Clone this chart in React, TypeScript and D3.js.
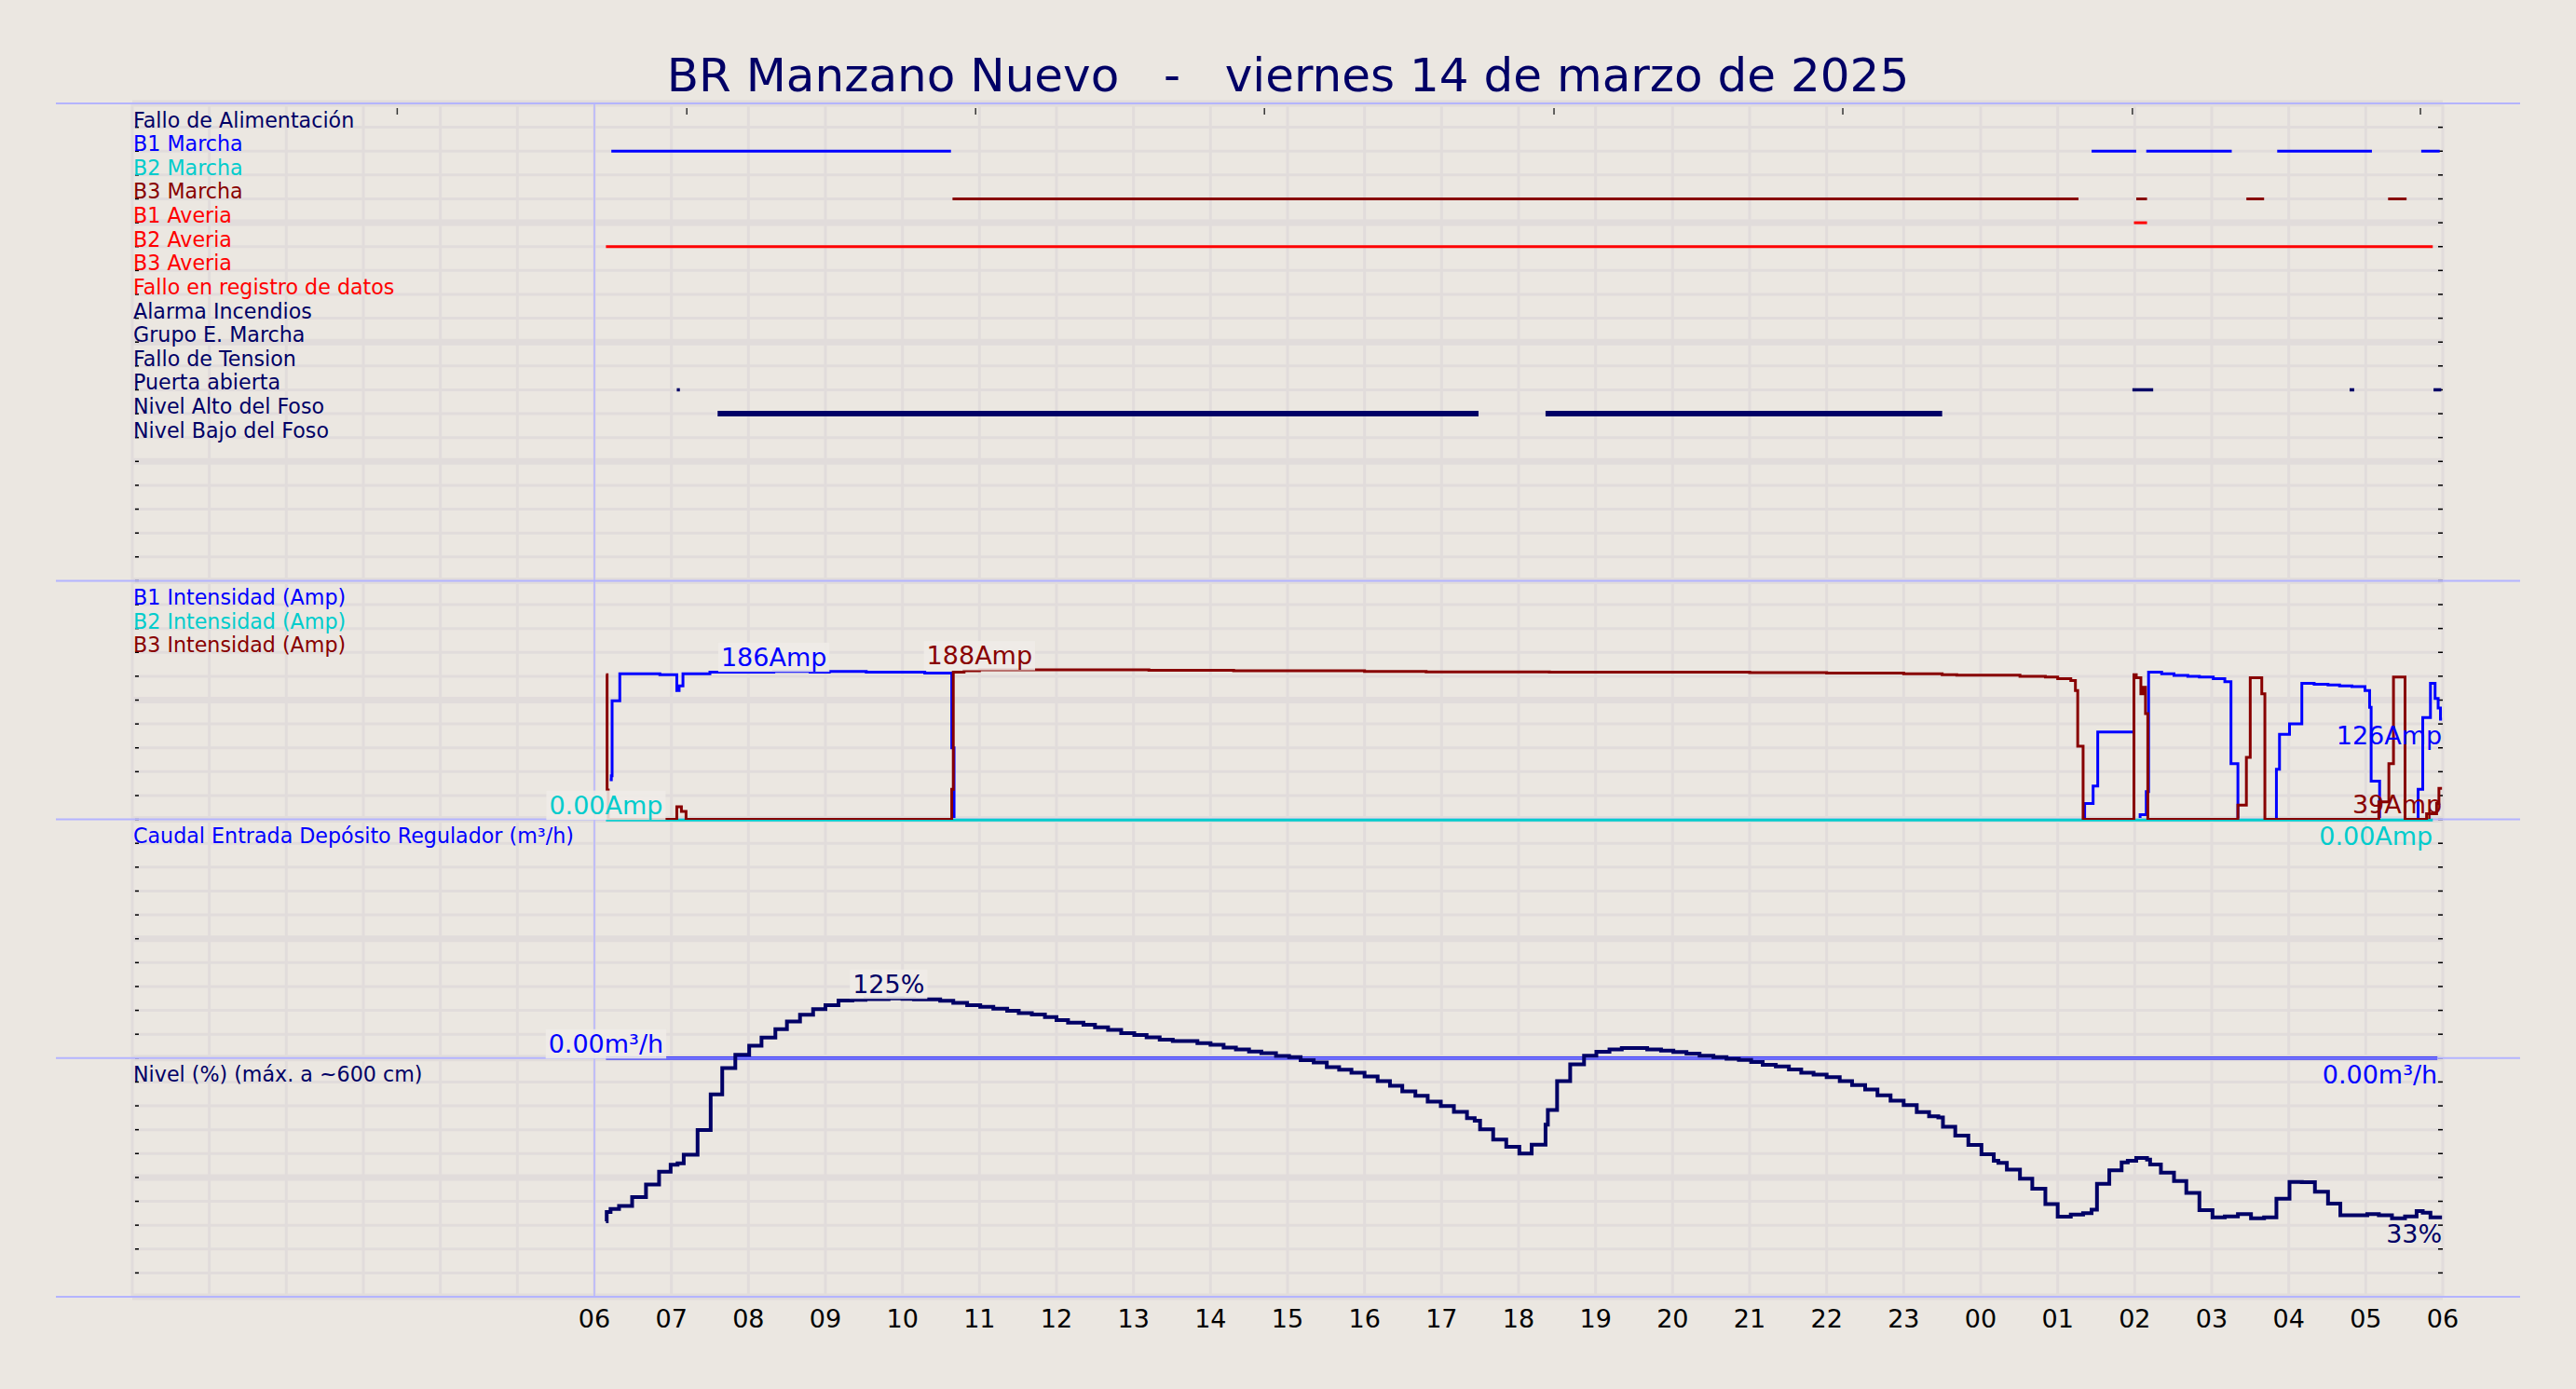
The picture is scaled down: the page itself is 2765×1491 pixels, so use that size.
import React from "react";
import * as d3 from "d3";

const W = 2765;
const H = 1491;
const FONT = "DejaVu Sans, Verdana, sans-serif";

const NAVY = "#000066";
const BLUE = "#0000ff";
const CYAN = "#00cccc";
const DARKRED = "#880000";
const RED = "#ff0000";
const BG = "#ebe7e1";
const GRID = "#e1dcdb";
const DIVIDER = "#b4b4ff";

const titleText = "BR Manzano Nuevo   -   viernes 14 de marzo de 2025";

// Top panel rows
const statusLabels = [
  "Fallo de Alimentación",
  "B1 Marcha",
  "B2 Marcha",
  "B3 Marcha",
  "B1 Averia",
  "B2 Averia",
  "B3 Averia",
  "Fallo en registro de datos",
  "Alarma Incendios",
  "Grupo E. Marcha",
  "Fallo de Tension",
  "Puerta abierta",
  "Nivel Alto del Foso",
  "Nivel Bajo del Foso",
];
const statusColors = [NAVY, BLUE, CYAN, DARKRED, RED, RED, RED, RED, NAVY, NAVY, NAVY, NAVY, NAVY, NAVY];

// status segments [startHour, endHour] (hours from 00:00 of 14/03)
const b1Marcha = [[6.22, 10.63], [25.44, 26.02], [26.15, 27.26], [27.85, 29.08], [29.72, 29.96]];
const b3Marcha = [[10.65, 25.27], [26.02, 26.16], [27.45, 27.68], [29.29, 29.53]];
const b1Averia = [[25.99, 26.16]];
const b2Averia = [[6.15, 29.87]];
const puertaAbierta = [[7.07, 7.11], [25.97, 26.24], [28.79, 28.85], [29.88, 29.98]];
const nivelAlto = [[7.6, 17.48], [18.35, 23.5]];

// Intensities (Amp)
const b1Amp = [
  [6.2, 50], [6.22, 55], [6.23, 149], [6.33, 183], [6.85, 182], [7.07, 162], [7.1, 168], [7.15, 183],
  [7.5, 185], [8.33, 186], [8.8, 185], [9.05, 186], [9.53, 185], [10.29, 184], [10.64, 90], [10.67, 0],
  [25.35, 20], [25.46, 42], [25.52, 110], [25.99, 0], [26.07, 6], [26.15, 35], [26.18, 185], [26.35, 183],
  [26.51, 181], [26.69, 180], [26.84, 179], [27.02, 177], [27.17, 173], [27.25, 70], [27.34, 0],
  [27.84, 63], [27.88, 107], [28.01, 120], [28.17, 171], [28.33, 170], [28.51, 169], [28.66, 168],
  [28.82, 167], [28.99, 162], [29.05, 141], [29.07, 48], [29.18, 0], [29.68, 38], [29.74, 128],
  [29.84, 171], [29.9, 152], [29.94, 140], [29.97, 126], [29.99, 126],
];
const b2Amp = [[6.15, 0], [29.87, 0]];
const b3Amp = [
  [6.15, 182], [6.165, 37], [6.18, 0], [7.07, 16], [7.13, 10], [7.19, 0], [10.64, 38], [10.66, 185],
  [10.8, 187], [11.0, 188], [12.1, 188], [13.2, 187.5], [14.3, 187], [15.1, 187], [16.0, 186],
  [16.8, 185.5], [18.4, 185], [19.6, 185], [21.0, 184.5], [22.0, 184], [23.0, 183], [23.5, 182],
  [23.69, 181.3], [24.51, 180], [24.84, 179], [25.0, 177], [25.17, 174.6], [25.23, 162], [25.26, 92],
  [25.33, 0], [25.99, 182], [26.02, 178], [26.08, 158], [26.11, 166], [26.14, 133], [26.17, 0],
  [27.34, 18], [27.45, 78], [27.5, 178], [27.65, 158], [27.69, 0], [29.17, 22], [29.3, 70],
  [29.36, 179], [29.51, 0], [29.79, 7], [29.92, 20], [29.95, 39], [29.99, 39],
];

// Caudal (m3/h)
const caudal = [[6.15, 0], [29.93, 0]];

// Nivel (%)
const nivel = [
  [6.15, 31.6], [6.16, 35.5], [6.21, 36.8], [6.32, 38.1], [6.49, 41.8], [6.67, 47.0], [6.84, 52.4],
  [6.99, 55.3], [7.08, 55.9], [7.16, 59.5], [7.34, 69.9], [7.51, 84.8], [7.66, 95.8], [7.83, 101.4],
  [8.01, 105.2], [8.17, 108.6], [8.35, 112.1], [8.5, 115.3], [8.67, 118.2], [8.84, 120.5], [9.0, 122.2],
  [9.17, 124.1], [9.35, 124.4], [9.52, 124.7], [9.82, 125], [10.0, 124.8], [10.15, 124.6], [10.49, 124.0],
  [10.66, 123.1], [10.84, 122.2], [11.01, 121.5], [11.18, 120.7], [11.36, 119.8], [11.51, 118.9],
  [11.68, 118.3], [11.85, 117.2], [12.0, 115.9], [12.15, 114.9], [12.35, 114.0], [12.5, 112.9],
  [12.67, 111.8], [12.84, 110.5], [13.01, 109.7], [13.17, 108.7], [13.34, 107.7], [13.51, 107.1],
  [13.83, 106.3], [14.0, 105.6], [14.17, 104.4], [14.33, 103.6], [14.5, 102.8], [14.66, 102.1],
  [14.85, 100.9], [15.02, 100.4], [15.17, 99.1], [15.34, 98.2], [15.51, 96.2], [15.67, 95.1],
  [15.83, 93.9], [16.0, 92.3], [16.17, 90.4], [16.33, 88.4], [16.49, 86.1], [16.66, 84.2], [16.82, 81.8],
  [16.99, 79.9], [17.16, 77.5], [17.33, 74.8], [17.43, 73.8], [17.5, 70.2], [17.67, 65.9], [17.84, 62.8],
  [18.01, 60.0], [18.17, 63.7], [18.35, 72.1], [18.38, 78.3], [18.5, 90.4], [18.67, 97.4], [18.85, 101.0],
  [19.01, 102.7], [19.18, 103.6], [19.34, 104.2], [19.67, 103.6], [19.85, 103.1], [20.01, 102.6],
  [20.18, 101.9], [20.35, 101.0], [20.53, 100.4], [20.7, 99.7], [20.86, 99.2], [21.02, 98.4],
  [21.17, 97.2], [21.34, 96.5], [21.51, 95.2], [21.67, 93.9], [21.83, 93.1], [22.0, 92.0], [22.17, 90.4],
  [22.33, 88.7], [22.5, 86.8], [22.66, 84.4], [22.83, 82.2], [23.0, 80.3], [23.17, 77.4], [23.33, 75.6],
  [23.45, 75.1], [23.51, 71.2], [23.67, 67.5], [23.84, 63.6], [24.01, 59.7], [24.17, 57.0], [24.23, 56.1],
  [24.34, 53.3], [24.51, 49.5], [24.67, 45.3], [24.84, 38.8], [25.0, 33.6], [25.17, 34.4], [25.33, 35.0],
  [25.44, 36.5], [25.51, 47.3], [25.67, 53.0], [25.83, 56.3], [25.91, 57.0], [26.02, 58.2], [26.16, 57.5],
  [26.2, 55.4], [26.34, 52.0], [26.51, 48.5], [26.67, 43.5], [26.84, 36.3], [27.01, 33.3], [27.17, 33.7],
  [27.34, 34.6], [27.51, 32.9], [27.68, 33.3], [27.84, 41.1], [28.01, 48.1], [28.17, 48.0], [28.34, 44.0],
  [28.51, 39.0], [28.67, 34.2], [29.02, 34.6], [29.17, 34.2], [29.34, 32.9], [29.51, 33.7], [29.66, 35.9],
  [29.74, 35.2], [29.84, 33.3], [29.99, 33.3],
];

const topMarks = [3.44, 7.2, 10.95, 14.7, 18.46, 22.21, 25.97, 29.71];
const tickHours = d3.range(6, 31);

// scales
const x = d3.scaleLinear().domain([0, 30]).range([142, 2622]);
const rowY = d3.scaleLinear().domain([0, 50]).range([111, 1392]);
const ampY = d3.scaleLinear().domain([0, 300]).range([rowY(30), rowY(20)]);
const caudalY = d3.scaleLinear().domain([0, 100]).range([rowY(40), rowY(30)]);
const levelY = d3.scaleLinear().domain([0, 100]).range([rowY(50), rowY(40)]);

const ctx = typeof document !== "undefined" ? document.createElement("canvas").getContext("2d") : null;
function measure(t: string, size: number) {
  if (!ctx) return t.length * size * 0.6;
  ctx.font = `${size}px "DejaVu Sans"`;
  return ctx.measureText(t).width;
}

function stepPath(data: number[][], ys: any) {
  return d3
    .line<number[]>()
    .x((d) => x(d[0]))
    .y((d) => ys(d[1]))
    .curve(d3.curveStepAfter)(data) as string;
}

const fmtAmp = (v: number) => (v === 0 ? v.toFixed(2) : String(Math.round(v))) + "Amp";
const fmtM3 = (v: number) => (v === 0 ? v.toFixed(2) : String(Math.round(v))) + "m³/h";
const fmtPct = (v: number) => String(Math.round(v)) + "%";

function MaxLabel({ data, ys, fmt, color }: any) {
  const idx = d3.maxIndex(data, (d: number[]) => d[1]);
  const d = data[idx];
  const cx = x(d[0]);
  const by = ys(d[1]) - 6;
  const text = fmt(d[1]);
  const size = 27;
  const w = measure(text, size);
  return (
    <g>
      <rect x={cx - w / 2 - 3} y={by - 25} width={w + 6} height={31.5} fill="#efece7" opacity={0.88} />
      <text x={cx} y={by} textAnchor="middle" fontSize={size} fill={color} fontFamily={FONT}>
        {text}
      </text>
    </g>
  );
}

function LastLabel({ data, ys, fmt, color }: any) {
  const d = data[data.length - 1];
  return (
    <text x={x(d[0])} y={ys(d[1]) + 27} textAnchor="end" fontSize={27} fill={color} fontFamily={FONT}>
      {fmt(d[1])}
    </text>
  );
}

export default function App() {
  const rows = d3.range(0, 51);
  const hours = d3.range(0, 31);
  const statusSeries = [
    { row: 2, segs: b1Marcha, color: BLUE, w: 3 },
    { row: 4, segs: b3Marcha, color: DARKRED, w: 3 },
    { row: 5, segs: b1Averia, color: RED, w: 3 },
    { row: 6, segs: b2Averia, color: RED, w: 3 },
    { row: 12, segs: puertaAbierta, color: NAVY, w: 3.5 },
    { row: 13, segs: nivelAlto, color: NAVY, w: 6 },
  ];
  const dividers = [0, 20, 30, 40, 50];
  return (
    <div style={{ position: "absolute", left: 0, top: 0, width: W, height: H }}>
      <svg width={W} height={H} style={{ display: "block" }}>
        <defs>
          <clipPath id="ampClip">
            <rect x={0} y={0} width={W} height={rowY(30) + 0.4} />
          </clipPath>
          <clipPath id="ampClipB1">
            <rect x={0} y={0} width={W} height={rowY(30) - 1.7} />
          </clipPath>
        </defs>
        <rect x={0} y={0} width={W} height={H} fill={BG} />
        {/* vertical grid */}
        {hours.map((h) => (
          <line key={"v" + h} x1={x(h)} x2={x(h)} y1={rowY(0)} y2={rowY(50)} stroke={GRID} strokeWidth={3} />
        ))}
        {/* horizontal grid */}
        {rows.map((r) => (
          <line
            key={"h" + r}
            x1={x(0)}
            x2={x(30)}
            y1={rowY(r)}
            y2={rowY(r)}
            stroke={GRID}
            strokeWidth={r % 5 === 0 ? 7 : 3}
          />
        ))}
        {/* side ticks */}
        {rows.map((r) => (
          <g key={"t" + r}>
            <line x1={x(0) + 3} x2={x(0) + 7} y1={rowY(r)} y2={rowY(r)} stroke="#000" strokeWidth={1.5} />
            <line x1={x(30) - 5} x2={x(30)} y1={rowY(r)} y2={rowY(r)} stroke="#000" strokeWidth={1.5} />
          </g>
        ))}
        {/* dividers */}
        {dividers.map((r) => (
          <line key={"d" + r} x1={60} x2={2705} y1={rowY(r)} y2={rowY(r)} stroke={DIVIDER} strokeWidth={2} />
        ))}
        <line x1={x(6)} x2={x(6)} y1={rowY(0)} y2={rowY(50)} stroke={DIVIDER} strokeWidth={1.5} />
        {/* top marks */}
        {topMarks.map((h, i) => (
          <line key={"m" + i} x1={x(h)} x2={x(h)} y1={116} y2={123} stroke="#333" strokeWidth={1.5} />
        ))}
        {/* row labels */}
        {statusLabels.map((s, i) => (
          <text key={"l" + i} x={143} y={rowY(i + 1)} fontSize={22.2} fill={statusColors[i]} fontFamily={FONT}>
            {s}
          </text>
        ))}
        <text x={143} y={rowY(21)} fontSize={22.2} fill={BLUE} fontFamily={FONT}>B1 Intensidad (Amp)</text>
        <text x={143} y={rowY(22)} fontSize={22.2} fill={CYAN} fontFamily={FONT}>B2 Intensidad (Amp)</text>
        <text x={143} y={rowY(23)} fontSize={22.2} fill={DARKRED} fontFamily={FONT}>B3 Intensidad (Amp)</text>
        <text x={143} y={rowY(31)} fontSize={22.2} fill={BLUE} fontFamily={FONT}>Caudal Entrada Depósito Regulador (m³/h)</text>
        <text x={143} y={rowY(41)} fontSize={22.2} fill={NAVY} fontFamily={FONT}>Nivel (%) (máx. a ~600 cm)</text>

        {/* status segments */}
        {statusSeries.map((s) =>
          s.segs.map((seg, j) => (
            <line
              key={s.row + "-" + j}
              x1={x(seg[0])}
              x2={x(seg[1])}
              y1={rowY(s.row)}
              y2={rowY(s.row)}
              stroke={s.color}
              strokeWidth={s.w}
            />
          ))
        )}

        {/* intensities */}
        <path d={stepPath(b1Amp, ampY)} fill="none" stroke={BLUE} strokeWidth={3} clipPath="url(#ampClipB1)" />
        <path d={stepPath(b2Amp, ampY)} fill="none" stroke={CYAN} strokeWidth={3} transform="translate(0,0.6)" />
        <path d={stepPath(b3Amp, ampY)} fill="none" stroke={DARKRED} strokeWidth={3} clipPath="url(#ampClip)" />

        {/* caudal */}
        <path d={stepPath(caudal, caudalY)} fill="none" stroke={BLUE} strokeWidth={1.1} transform="translate(0,-1)" />
        <path d={stepPath(caudal, caudalY)} fill="none" stroke={BLUE} strokeWidth={1.1} transform="translate(0,1.2)" />

        {/* nivel */}
        <path d={stepPath(nivel, levelY)} fill="none" stroke={NAVY} strokeWidth={4} />

        {/* value labels */}
        <MaxLabel data={b1Amp} ys={ampY} fmt={fmtAmp} color={BLUE} />
        <MaxLabel data={b3Amp} ys={ampY} fmt={fmtAmp} color={DARKRED} />
        <MaxLabel data={b2Amp} ys={ampY} fmt={fmtAmp} color={CYAN} />
        <MaxLabel data={caudal} ys={caudalY} fmt={fmtM3} color={BLUE} />
        <MaxLabel data={nivel} ys={levelY} fmt={fmtPct} color={NAVY} />
        <LastLabel data={b1Amp} ys={ampY} fmt={fmtAmp} color={BLUE} />
        <LastLabel data={b3Amp} ys={ampY} fmt={fmtAmp} color={DARKRED} />
        <LastLabel data={b2Amp} ys={ampY} fmt={fmtAmp} color={CYAN} />
        <LastLabel data={caudal} ys={caudalY} fmt={fmtM3} color={BLUE} />
        <LastLabel data={nivel} ys={levelY} fmt={fmtPct} color={NAVY} />

        {/* x tick labels */}
        {tickHours.map((h) => (
          <text key={"x" + h} x={x(h)} y={1425} textAnchor="middle" fontSize={27} fill="#000" fontFamily={FONT}>
            {String(h % 24).padStart(2, "0")}
          </text>
        ))}

        {/* title */}
        <text
          x={W / 2}
          y={98}
          textAnchor="middle"
          fontSize={50}
          fill={NAVY}
          fontFamily={FONT}
          style={{ whiteSpace: "pre" }}
        >
          {titleText}
        </text>
      </svg>
    </div>
  );
}
